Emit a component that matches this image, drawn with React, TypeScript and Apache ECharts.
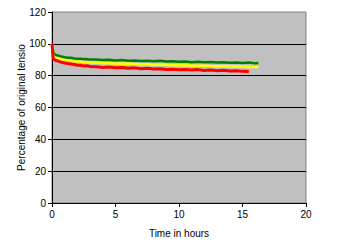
import React, { useEffect, useRef } from "react";
import * as echarts from "echarts";

const timesGY = [0, 0.1, 0.2, 0.3, 0.5, 0.75, 1, 1.25, 1.5, 1.75, 2, 2.25, 2.5, 2.75, 3, 3.5, 4, 4.5, 5, 5.5, 6, 6.5, 7, 7.5, 8, 8.5, 9, 9.5, 10, 10.5, 11, 11.5, 12, 12.5, 13, 13.5, 14, 14.5, 15, 15.5, 16, 16.25];
const timesR = [0, 0.1, 0.2, 0.3, 0.5, 0.75, 1, 1.25, 1.5, 1.75, 2, 2.25, 2.5, 2.75, 3, 3.5, 4, 4.5, 5, 5.5, 6, 6.5, 7, 7.5, 8, 8.5, 9, 9.5, 10, 10.5, 11, 11.5, 12, 12.5, 13, 13.5, 14, 14.5, 15, 15.5];
const greenValues = [100, 94.5, 93.5, 93, 92.6, 92, 91.6, 91.3, 91.2, 90.8, 90.6, 90.7, 90.3, 90.4, 90.1, 90.2, 89.9, 90.0, 89.6, 89.8, 89.4, 89.6, 89.2, 89.4, 89.0, 89.3, 88.9, 89.1, 88.7, 88.9, 88.5, 88.8, 88.4, 88.6, 88.2, 88.5, 88.1, 88.3, 88.0, 88.2, 87.8, 87.9];
const yellowValues = [100, 92.5, 91.8, 91.2, 90.8, 90.2, 89.9, 89.6, 89.3, 89.1, 88.9, 88.7, 88.6, 88.4, 88.3, 88.1, 88.0, 87.8, 87.7, 87.5, 87.6, 87.3, 87.1, 87.2, 86.9, 86.8, 86.9, 86.6, 86.5, 86.6, 86.3, 86.2, 86.3, 86.0, 85.9, 86.0, 85.8, 85.7, 85.8, 85.5, 85.4, 85.3];
const redValues = [100, 91, 90, 89.5, 89.2, 88.4, 88, 87.6, 87.3, 87.0, 86.6, 86.5, 86.1, 86.2, 85.8, 85.6, 85.2, 85.4, 85.0, 85.1, 84.7, 84.9, 84.4, 84.6, 84.2, 84.4, 83.9, 84.1, 83.7, 83.9, 83.5, 83.8, 83.3, 83.5, 83.1, 83.4, 82.9, 83.1, 82.7, 82.6];

const xTicks = [0, 5, 10, 15, 20];
const yTicks = [0, 20, 40, 60, 80, 100, 120];

const pairs = (t: number[], v: number[]) => t.map((x, i) => [x, v[i]]);

export default function App() {
  const ref = useRef<HTMLDivElement>(null);
  useEffect(() => {
    if (!ref.current) return;
    const chart = echarts.init(ref.current, null, { renderer: "svg" });
    const font = "Liberation Sans, Arial, sans-serif";
    chart.setOption({
      animation: false,
      textStyle: { fontFamily: font },
      grid: {
        left: 52,
        top: 12,
        right: 45,
        bottom: 49,
        show: true,
        backgroundColor: "#c0c0c0",
        borderColor: "#808080",
        borderWidth: 1,
      },
      xAxis: {
        type: "value",
        min: xTicks[0],
        max: xTicks[xTicks.length - 1],
        interval: 5,
        name: "Time in hours",
        nameLocation: "middle",
        nameGap: 25,
        nameMoveOverlap: false,
        nameTextStyle: { color: "#000", fontSize: 10, fontFamily: font },
        axisLine: { show: true, lineStyle: { color: "#000", width: 1 } },
        axisTick: { show: true, length: 4, lineStyle: { color: "#000" } },
        axisLabel: { color: "#000", fontSize: 10, margin: 6, fontFamily: font },
        splitLine: { show: false },
      },
      yAxis: {
        type: "value",
        min: yTicks[0],
        max: yTicks[yTicks.length - 1],
        interval: 20,
        name: "Percentage of original tensio",
        nameLocation: "middle",
        nameGap: 26,
        nameMoveOverlap: false,
        nameTextStyle: { color: "#000", fontSize: 10, fontFamily: font },
        axisLine: { show: true, lineStyle: { color: "#000", width: 1 } },
        axisTick: { show: true, length: 4, lineStyle: { color: "#000" } },
        axisLabel: { color: "#000", fontSize: 10, margin: 6, fontFamily: font },
        splitLine: { show: true, showMinLine: false, showMaxLine: false, lineStyle: { color: "#000", width: 1 } },
      },
      series: [
        { type: "line", data: pairs(timesGY, greenValues), showSymbol: false, lineStyle: { color: "#008000", width: 2.5 }, itemStyle: { color: "#008000" } },
        { type: "line", data: pairs(timesGY, yellowValues), showSymbol: false, lineStyle: { color: "#ffff00", width: 2.5 }, itemStyle: { color: "#ffff00" } },
        { type: "line", data: pairs(timesR, redValues), showSymbol: false, lineStyle: { color: "#ff0000", width: 3 }, itemStyle: { color: "#ff0000" } },
      ],
    });
    return () => chart.dispose();
  }, []);
  return <div ref={ref} style={{ width: 351, height: 252, position: "absolute", left: 0, top: 0 }} />;
}
